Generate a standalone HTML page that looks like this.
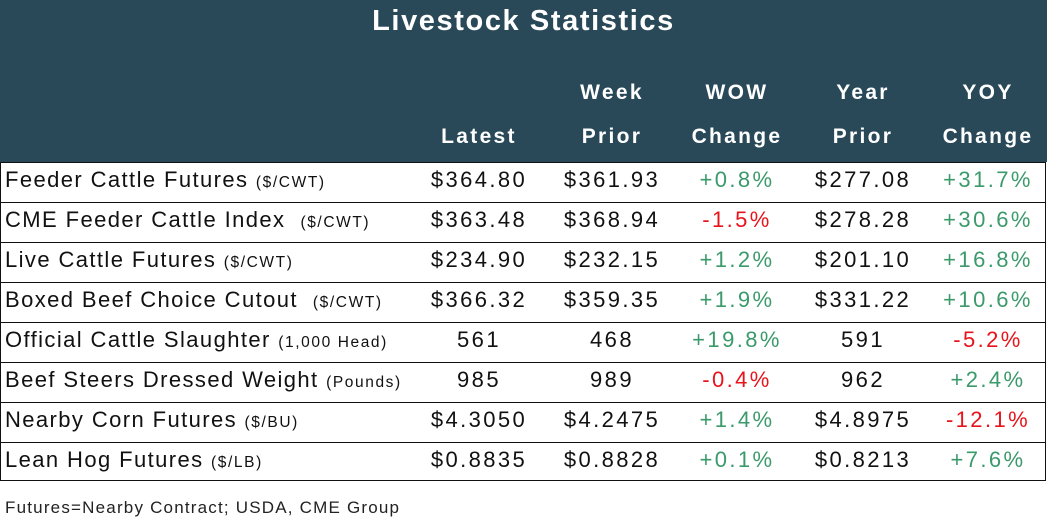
<!DOCTYPE html>
<html><head><meta charset="utf-8"><style>
body{margin:0;width:1047px;height:530px;background:#fff;font-family:"Liberation Sans",sans-serif;position:relative;overflow:hidden}
.hdr{position:absolute;left:0;top:0;width:1047px;height:162px;background:#294959}
.t{position:absolute;color:#fff;font-weight:bold;font-size:21px;letter-spacing:2.3px;transform:translateX(-50%)}
.tbl{position:absolute;left:0;top:162px;width:1044px;height:318px;border:1.5px solid #111;border-top:none}
.row{position:absolute;left:0;width:1045px;height:40px;border-top:1.5px solid #111;font-size:22px;color:#111}
.row span{position:absolute;top:4px;white-space:nowrap}
.l{left:5px;letter-spacing:1.4px}
.u{font-size:15.5px;letter-spacing:1.6px}
.row .u{position:static}
.c{transform:translateX(-50%);letter-spacing:2.4px}
.g{color:#3b9a6b}.r{color:#e8141c}
</style></head><body>
<div class="hdr"></div>
<div style="position:absolute;color:#fff;font-weight:bold;left:0;width:1047px;text-align:center;top:5px;font-size:29px;letter-spacing:1.6px">Livestock Statistics</div>
<div class="t" style="left:612px;top:81px">Week</div>
<div class="t" style="left:737px;top:81px">WOW</div>
<div class="t" style="left:863px;top:81px">Year</div>
<div class="t" style="left:988px;top:81px">YOY</div>
<div class="t" style="left:479px;top:125px">Latest</div>
<div class="t" style="left:612px;top:125px">Prior</div>
<div class="t" style="left:737px;top:125px">Change</div>
<div class="t" style="left:863px;top:125px">Prior</div>
<div class="t" style="left:988px;top:125px">Change</div>
<div class="tbl"></div>
<div class="row" style="top:162px"><span class="l">Feeder Cattle Futures <span class="u">($/CWT)</span></span><span class="c" style="left:479px">$364.80</span><span class="c" style="left:612px">$361.93</span><span class="c g" style="left:737px">+0.8%</span><span class="c" style="left:863px">$277.08</span><span class="c g" style="left:988px">+31.7%</span></div>
<div class="row" style="top:202px"><span class="l">CME Feeder Cattle Index &nbsp;<span class="u">($/CWT)</span></span><span class="c" style="left:479px">$363.48</span><span class="c" style="left:612px">$368.94</span><span class="c r" style="left:737px">-1.5%</span><span class="c" style="left:863px">$278.28</span><span class="c g" style="left:988px">+30.6%</span></div>
<div class="row" style="top:242px"><span class="l">Live Cattle Futures <span class="u">($/CWT)</span></span><span class="c" style="left:479px">$234.90</span><span class="c" style="left:612px">$232.15</span><span class="c g" style="left:737px">+1.2%</span><span class="c" style="left:863px">$201.10</span><span class="c g" style="left:988px">+16.8%</span></div>
<div class="row" style="top:282px"><span class="l">Boxed Beef Choice Cutout &nbsp;<span class="u">($/CWT)</span></span><span class="c" style="left:479px">$366.32</span><span class="c" style="left:612px">$359.35</span><span class="c g" style="left:737px">+1.9%</span><span class="c" style="left:863px">$331.22</span><span class="c g" style="left:988px">+10.6%</span></div>
<div class="row" style="top:322px"><span class="l">Official Cattle Slaughter <span class="u">(1,000 Head)</span></span><span class="c" style="left:479px">561</span><span class="c" style="left:612px">468</span><span class="c g" style="left:737px">+19.8%</span><span class="c" style="left:863px">591</span><span class="c r" style="left:988px">-5.2%</span></div>
<div class="row" style="top:362px"><span class="l">Beef Steers Dressed Weight <span class="u">(Pounds)</span></span><span class="c" style="left:479px">985</span><span class="c" style="left:612px">989</span><span class="c r" style="left:737px">-0.4%</span><span class="c" style="left:863px">962</span><span class="c g" style="left:988px">+2.4%</span></div>
<div class="row" style="top:402px"><span class="l">Nearby Corn Futures <span class="u">($/BU)</span></span><span class="c" style="left:479px">$4.3050</span><span class="c" style="left:612px">$4.2475</span><span class="c g" style="left:737px">+1.4%</span><span class="c" style="left:863px">$4.8975</span><span class="c r" style="left:988px">-12.1%</span></div>
<div class="row" style="top:442px"><span class="l">Lean Hog Futures <span class="u">($/LB)</span></span><span class="c" style="left:479px">$0.8835</span><span class="c" style="left:612px">$0.8828</span><span class="c g" style="left:737px">+0.1%</span><span class="c" style="left:863px">$0.8213</span><span class="c g" style="left:988px">+7.6%</span></div>
<div style="position:absolute;left:5px;top:498px;font-size:17px;color:#222;letter-spacing:1.2px">Futures=Nearby Contract; USDA, CME Group</div>
</body></html>
